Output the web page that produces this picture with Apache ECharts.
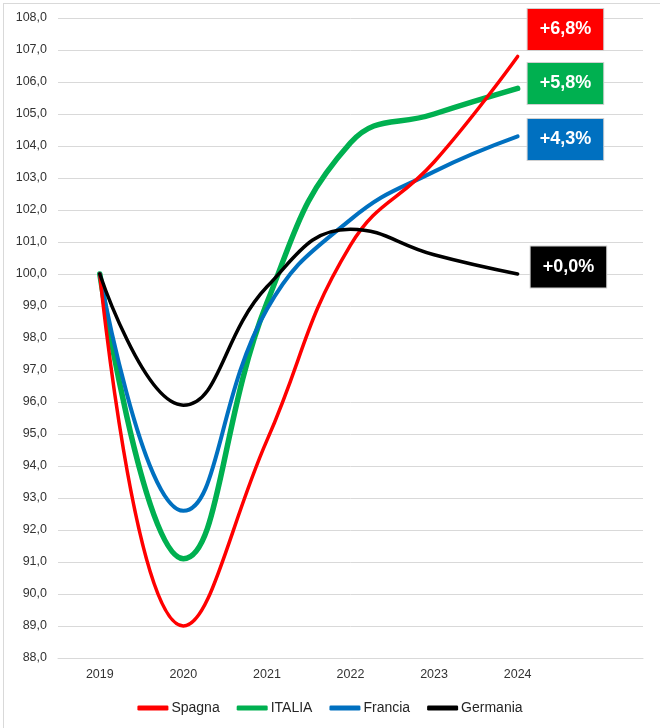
<!DOCTYPE html>
<html>
<head>
<meta charset="utf-8">
<script src="https://cdn.jsdelivr.net/npm/echarts@6/dist/echarts.min.js"></script>
<style>
html,body{margin:0;padding:0;background:#fff;}
#c{width:660px;height:728px;}
#frame{position:absolute;left:3px;top:3px;width:660px;height:728px;border-left:1px solid #d9d9d9;border-top:1px solid #d9d9d9;pointer-events:none;}
</style>
</head>
<body>
<div id="c"></div>
<div id="frame"></div>
<script>
var years = ['2019', '2020', '2021', '2022', '2023', '2024', ''];
var spagna   = [100.0, 89.0, 94.8, 100.9, 103.5, 106.8];
var italia   = [100.0, 91.1, 99.1, 104.1, 105.0, 105.8];
var francia  = [100.0, 92.6, 98.9, 101.7, 103.2, 104.3];
var germania = [100.0, 95.9, 99.6, 101.4, 100.6, 100.0];
var seriesNames = ['Spagna', 'ITALIA', 'Francia', 'Germania'];
var endTexts = ['+6,8%', '+5,8%', '+4,3%', '+0,0%'];
var colors = ['#FF0000', '#00B050', '#0070C0', '#000000'];
var widths = [3.5, 5.5, 4, 3.5];
var labelOffsets = [[0, -27], [0, -5], [0, 3], [3, -7]];
var allData = [spagna, italia, francia, germania];

var font = 'Liberation Sans, Arial, sans-serif';

var series = allData.map(function (d, i) {
  return {
    name: seriesNames[i],
    type: 'line',
    data: d,
    smooth: 0.45,
    symbol: 'none',
    z: i === 3 ? 5 : (i === 0 ? 4 : 3),
    lineStyle: { color: colors[i], width: widths[i], cap: 'round', join: 'round' },
    itemStyle: { color: colors[i] },
    endLabel: {
      show: true,
      formatter: function () { return endTexts[i]; },
      color: '#fff',
      fontFamily: font,
      fontWeight: 'bold',
      fontSize: 18,
      backgroundColor: colors[i],
      borderColor: '#d0d0d0',
      borderWidth: 1,
      padding: [12, 12, 11, 12],
      distance: 10,
      offset: labelOffsets[i]
    }
  };
});

var chart = echarts.init(document.getElementById('c'), null, { renderer: 'canvas' });
chart.setOption({
  animation: false,
  backgroundColor: '#fff',
  grid: { left: 58, right: 17, top: 18, bottom: 70, containLabel: false },
  legend: {
    data: seriesNames,
    top: 696,
    left: 'center',
    icon: 'roundRect',
    itemWidth: 31,
    itemHeight: 5,
    itemGap: 17,
    textStyle: { fontFamily: font, fontSize: 14, color: '#262626', padding: [0, 0, 0, -2] }
  },
  xAxis: {
    type: 'category',
    data: years,
    boundaryGap: true,
    axisLine: { show: true, lineStyle: { color: '#d9d9d9', width: 1 } },
    axisTick: { show: false },
    axisLabel: { fontFamily: font, fontSize: 12.5, color: '#333333', margin: 10 },
    splitLine: { show: false }
  },
  yAxis: {
    type: 'value',
    min: 88,
    max: 108,
    interval: 1,
    axisLine: { show: false },
    axisTick: { show: false },
    axisLabel: {
      fontFamily: font, fontSize: 12.5, color: '#333333', margin: 11,
      formatter: function (v) { return v.toFixed(1).replace('.', ','); }
    },
    splitLine: { lineStyle: { color: '#d9d9d9', width: 1 } }
  },
  series: series
});
</script>
</body>
</html>
